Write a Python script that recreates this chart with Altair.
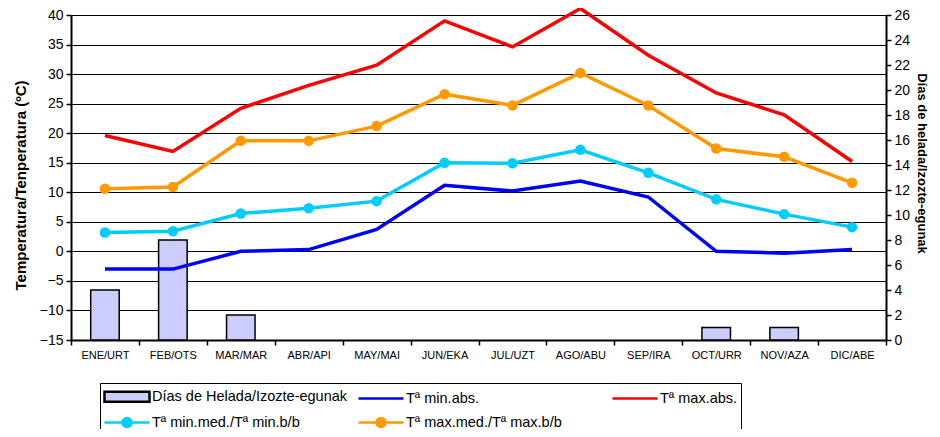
import altair as alt
import pandas as pd

months = ["ENE/URT", "FEB/OTS", "MAR/MAR", "ABR/API", "MAY/MAI", "JUN/EKA",
          "JUL/UZT", "AGO/ABU", "SEP/IRA", "OCT/URR", "NOV/AZA", "DIC/ABE"]
helada = [4, 8, 2, 0, 0, 0, 0, 0, 0, 1, 1, 0]
tmin_abs = [-3.0, -3.0, 0.0, 0.3, 3.7, 11.2, 10.2, 11.9, 9.2, 0.0, -0.3, 0.3]
tmax_abs = [19.6, 16.9, 24.2, 28.1, 31.5, 39.0, 34.6, 41.1, 33.2, 26.8, 23.1, 15.2]
tmin_med = [3.2, 3.4, 6.4, 7.3, 8.5, 15.0, 14.9, 17.2, 13.3, 8.8, 6.3, 4.1]
tmax_med = [10.6, 10.9, 18.7, 18.7, 21.2, 26.6, 24.7, 30.2, 24.7, 17.4, 16.0, 11.6]

S_HEL = "Días de Helada/Izozte-egunak"
S_MINABS = "Tª min.abs."
S_MAXABS = "Tª max.abs."
S_MINMED = "Tª min.med./Tª min.b/b"
S_MAXMED = "Tª max.med./Tª max.b/b"
# order chosen so the column-wise legend reads row by row like the reference
series_order = [S_HEL, S_MINMED, S_MINABS, S_MAXMED, S_MAXABS]
fill_colors = ["#CCCCFF", "#00CCFF", "transparent", "#FF9900", "transparent"]
stroke_colors = ["black", "#00CCFF", "#0000FF", "#FF9900", "#FF0000"]

bars_df = pd.DataFrame({"mes": months, "dias": helada, "serie": S_HEL})
rows = []
for name, vals in [(S_MINABS, tmin_abs), (S_MAXABS, tmax_abs),
                   (S_MINMED, tmin_med), (S_MAXMED, tmax_med)]:
    for m, v in zip(months, vals):
        rows.append({"mes": m, "temp": v, "serie": name})
lines_df = pd.DataFrame(rows)

FONT = "Liberation Sans"

fill_scale = alt.Scale(domain=series_order, range=fill_colors)
stroke_scale = alt.Scale(domain=series_order, range=stroke_colors)

shape_sig = (
    f"datum.value === '{S_HEL}' ? 'M-1,-0.55H4V0.55H-1Z' : "
    f"((datum.value === '{S_MINMED}' || datum.value === '{S_MAXMED}') ? "
    "'M-1,0H4M1,0A0.5,0.5,0,1,0,2,0A0.5,0.5,0,1,0,1,0' : 'M-1,0H4')"
)

legend = alt.Legend(
    title=None, orient="none", legendX=29, legendY=368, columns=3,
    gridAlign="all", columnPadding=5, rowPadding=5, padding=3,
    symbolSize=324, labelFont=FONT, labelFontSize=14.5, labelColor="black",
    labelOffset=28, labelLimit=400, strokeColor="black", fillColor="white",
    cornerRadius=0,
    symbolType={"expr": shape_sig},
    symbolStrokeWidth=2.5,
    symbolOpacity=1,
)

x_enc = alt.X("mes:N", sort=months, title=None,
              scale=alt.Scale(paddingInner=0, paddingOuter=0),
              axis=alt.Axis(labelAngle=0, labelFont=FONT, labelFontSize=11,
                            labelColor="black", tickBand="extent", tickColor="black",
                            tickSize=5, tickWidth=1.5, domainColor="black",
                            domainWidth=2, labelPadding=4, grid=False))

bars = alt.Chart(bars_df).transform_filter(
    alt.datum.dias > 0
).mark_bar(
    width={"band": 0.42}, stroke="black", strokeWidth=1.5
).encode(
    x=x_enc,
    y=alt.Y("dias:Q", scale=alt.Scale(domain=[0, 26], nice=False),
            axis=alt.Axis(orient="right", values=list(range(0, 27, 2)),
                          labelOverlap=False,
                          title="Días de helada/Izozte-egunak",
                          titleFont=FONT, titleFontSize=13, titleFontWeight="bold",
                          titleColor="black", titlePadding=5, titleY=148,
                          labelFont=FONT, labelFontSize=14, labelColor="black",
                          tickColor="black", tickSize=5, tickWidth=1.5,
                          domainColor="black", domainWidth=2, grid=False,
                          labelPadding=3)),
    fill=alt.Fill("serie:N", scale=fill_scale, legend=legend),
)

temp_axis = alt.Axis(values=list(range(-15, 41, 5)), labelOverlap=False,
                     title="Temperatura/Tenperatura (ºC)",
                     titleFont=FONT, titleFontSize=15, titleFontWeight="bold",
                     titleColor="black", titlePadding=11, titleY=170,
                     labelFont=FONT, labelFontSize=14, labelColor="black",
                     tickColor="black", tickSize=5, tickWidth=1.5,
                     domainColor="black", domainWidth=2,
                     grid=True, gridColor="black", gridWidth=1.2,
                     gridOpacity=1, labelPadding=3)
temp_scale = alt.Scale(domain=[-15, 40], nice=False)

lines = alt.Chart(lines_df).mark_line(strokeWidth=3.5, clip=False).encode(
    x=alt.X("mes:N", sort=months),
    y=alt.Y("temp:Q", scale=temp_scale, axis=temp_axis),
    stroke=alt.Stroke("serie:N", scale=stroke_scale, legend=legend),
    detail="serie:N",
)

points = alt.Chart(lines_df).transform_filter(
    alt.FieldOneOfPredicate(field="serie", oneOf=[S_MINMED, S_MAXMED])
).mark_circle(size=110, opacity=1, clip=False, strokeWidth=0).encode(
    x=alt.X("mes:N", sort=months),
    y=alt.Y("temp:Q", scale=temp_scale, axis=temp_axis),
    fill=alt.Fill("serie:N", scale=fill_scale, legend=legend),
)

temp_layer = alt.layer(lines, points)

chart = alt.layer(bars, temp_layer).resolve_scale(
    y="independent"
).properties(
    width=815, height=325,
    autosize=alt.AutoSizeParams(type="none"),
    padding={"left": 63, "top": 7, "right": 46, "bottom": 89},
).configure_view(
    stroke="#808080", strokeWidth=2
).configure_legend(
    strokeColor="black", strokeWidth=1.5, fillColor="white"
).configure(background="white")

chart.save("out.html", embed_options={"renderer": "svg", "actions": False})
